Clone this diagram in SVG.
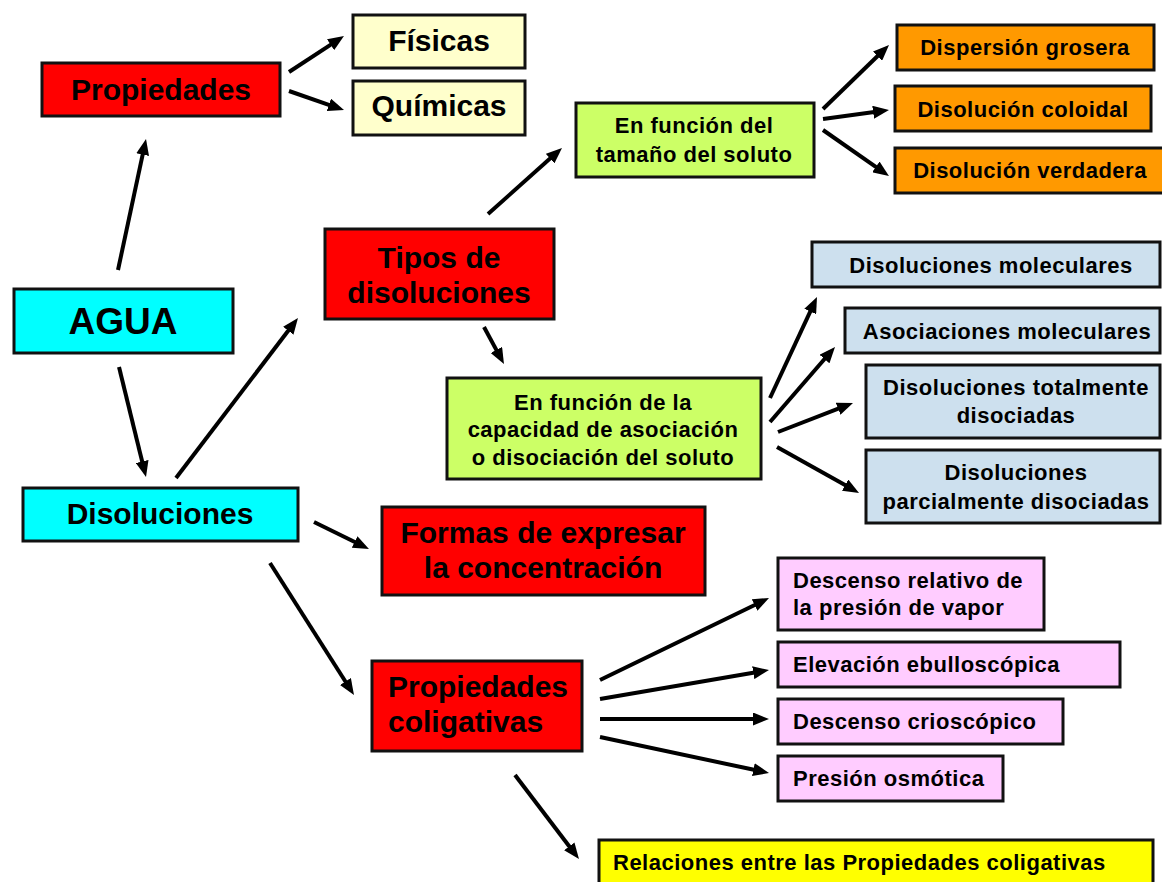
<svg xmlns="http://www.w3.org/2000/svg" width="1162" height="882" viewBox="0 0 1162 882">
<defs>
<marker id="ah" markerUnits="userSpaceOnUse" markerWidth="16" markerHeight="13" refX="3" refY="6.5" orient="auto">
<path d="M0,0 L16,6.5 L0,13 Z" fill="#000"/>
</marker>
</defs>
<style>
rect{stroke:#111;stroke-width:3}
.red{fill:#ff0000}.cyan{fill:#00ffff}.cream{fill:#ffffcc}.lime{fill:#ccff66}.orange{fill:#ff9900}.blue{fill:#cde0ee}.pink{fill:#ffccff}.yellow{fill:#ffff00}
text{font-family:"Liberation Sans",Arial,sans-serif;font-weight:bold;fill:#000}
.big{font-size:30px;text-anchor:middle}
.bigl{font-size:30px}
.sm{font-size:22px;letter-spacing:0.5px;text-anchor:middle}
.sml{font-size:22px;letter-spacing:0.5px}
#conn path{stroke:#000;stroke-width:4;fill:none;marker-end:url(#ah)}
</style>
<rect width="1162" height="882" fill="#fff" style="stroke:none"/>
<g id="conn">
<path d="M118,270 L143.3,151.7"/>
<path d="M119,367 L142.9,464.4"/>
<path d="M289,72 L333.1,43.1"/>
<path d="M289,91 L331.7,105.8"/>
<path d="M176,478 L290.1,328.3"/>
<path d="M488,214 L552.3,156.6"/>
<path d="M484,327 L497.8,352.6"/>
<path d="M823,109 L879.7,54"/>
<path d="M823,119 L876.1,111.8"/>
<path d="M823,130 L878.3,168.6"/>
<path d="M770,398 L811.5,308.8"/>
<path d="M770,422 L826.5,356.8"/>
<path d="M778,432 L840.9,407.7"/>
<path d="M777,447 L847.7,486.6"/>
<path d="M314,522 L357.3,543.3"/>
<path d="M270,563 L347,684"/>
<path d="M515,775 L571.1,848.7"/>
<path d="M600,680 L757.3,603.7"/>
<path d="M600,699 L756.2,672.2"/>
<path d="M600,719 L756,719"/>
<path d="M600,737 L756.3,770.3"/>
</g>
<g id="propiedades"><rect class="red" x="42" y="63" width="238" height="53"/><text class="big" x="161" y="100">Propiedades</text></g>
<g id="fisicas"><rect class="cream" x="353" y="15" width="172" height="53"/><text class="big" x="439" y="51">Físicas</text></g>
<g id="quimicas"><rect class="cream" x="353" y="81" width="172" height="54"/><text class="big" x="439" y="116">Químicas</text></g>
<g id="agua"><rect class="cyan" x="14" y="289" width="219" height="64"/><text class="big" style="font-size:37px" x="123" y="334">AGUA</text></g>
<g id="disoluciones"><rect class="cyan" x="23" y="488" width="275" height="53"/><text class="big" x="160" y="524">Disoluciones</text></g>
<g id="tipos"><rect class="red" x="325" y="229" width="229" height="90"/><text class="big" x="439" y="268">Tipos de</text><text class="big" x="439" y="303">disoluciones</text></g>
<g id="tamano"><rect class="lime" x="576" y="103" width="238" height="74"/><text class="sm" x="694" y="133">En función del</text><text class="sm" x="694" y="162">tamaño del soluto</text></g>
<g id="dispersion"><rect class="orange" x="897" y="25" width="257" height="45"/><text class="sm" x="1025" y="55">Dispersión grosera</text></g>
<g id="coloidal"><rect class="orange" x="895" y="86" width="256" height="45"/><text class="sm" x="1023" y="117">Disolución coloidal</text></g>
<g id="verdadera"><rect class="orange" x="895" y="148" width="270" height="45"/><text class="sm" x="1030" y="178">Disolución verdadera</text></g>
<g id="capacidad"><rect class="lime" x="447" y="378" width="314" height="101"/><text class="sm" x="603" y="410">En función de la</text><text class="sm" x="603" y="437">capacidad de asociación</text><text class="sm" x="603" y="465">o disociación del soluto</text></g>
<g id="moleculares"><rect class="blue" x="812" y="242" width="348" height="45"/><text class="sm" x="991" y="273">Disoluciones moleculares</text></g>
<g id="asociaciones"><rect class="blue" x="845" y="308" width="315" height="45"/><text class="sm" x="1007" y="339">Asociaciones moleculares</text></g>
<g id="totalmente"><rect class="blue" x="866" y="365" width="294" height="73"/><text class="sm" x="1016" y="395">Disoluciones totalmente</text><text class="sm" x="1016" y="423">disociadas</text></g>
<g id="parcialmente"><rect class="blue" x="866" y="450" width="294" height="73"/><text class="sm" x="1016" y="480">Disoluciones</text><text class="sm" x="1016" y="509">parcialmente disociadas</text></g>
<g id="formas"><rect class="red" x="382" y="507" width="323" height="88"/><text class="big" x="543" y="543">Formas de expresar</text><text class="big" x="543" y="578">la concentración</text></g>
<g id="coligativas"><rect class="red" x="372" y="661" width="210" height="90"/><text class="bigl" x="388" y="697">Propiedades</text><text class="bigl" x="388" y="732">coligativas</text></g>
<g id="descenso-relativo"><rect class="pink" x="778" y="558" width="266" height="72"/><text class="sml" x="793" y="588">Descenso relativo de</text><text class="sml" x="793" y="615">la presión de vapor</text></g>
<g id="elevacion"><rect class="pink" x="778" y="642" width="342" height="45"/><text class="sml" x="793" y="672">Elevación ebulloscópica</text></g>
<g id="crioscopico"><rect class="pink" x="778" y="699" width="285" height="45"/><text class="sml" x="793" y="729">Descenso crioscópico</text></g>
<g id="osmotica"><rect class="pink" x="778" y="756" width="225" height="45"/><text class="sml" x="793" y="786">Presión osmótica</text></g>
<g id="relaciones"><rect class="yellow" x="599" y="840" width="554" height="50"/><text class="sml" x="613" y="870">Relaciones entre las Propiedades coligativas</text></g>
</svg>
